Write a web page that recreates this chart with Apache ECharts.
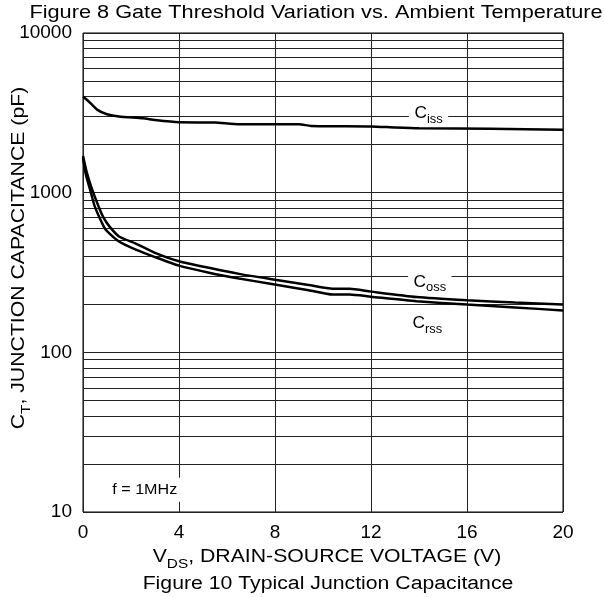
<!DOCTYPE html>
<html><head><meta charset="utf-8">
<script src="https://cdn.jsdelivr.net/npm/echarts@6/dist/echarts.min.js"></script>
<style>html,body{margin:0;padding:0;background:#fff}#c{width:605px;height:597px}</style>
</head><body><div id="c"></div>
<script>
const xTicks = [0, 4, 8, 12, 16, 20];
const yTicks = [10, 100, 1000, 10000];
const minorLines = [20,30,40,50,60,70,80,90,200,300,400,500,600,700,800,900,2000,3000,4000,5000,6000,7000,8000,9000];
const ciss = [[0,4000],[0.3,3650],[0.6,3300],[1,3100],[1.5,3000],[2.5,2920],[3,2850],[4,2760],[5.5,2750],[6.5,2680],[9,2680],[9.5,2620],[12,2600],[13,2560],[14,2530],[17,2510],[20,2480]];
const coss = [[0,1700],[0.15,1350],[0.35,1080],[0.65,820],[0.85,700],[1.1,615],[1.5,532],[2.2,480],[3,420],[4,372],[5.3,337],[6.5,310],[7.8,288],[9.4,264],[10.4,250],[11.1,250],[12,240],[13.9,222],[16,212],[18,205],[20,199]];
const crss = [[0,1650],[0.12,1300],[0.33,1000],[0.49,820],[0.86,615],[1.0,575],[1.5,495],[2.2,440],[3,395],[4,349],[5.3,314],[6.5,290],[7.8,269],[9.4,245],[10.4,230],[11.1,230],[12,223],[13.9,209],[16,199],[18,191],[20,183]];
const notes = [
  {pos:[14.4,3170], main:'C', sub:'iss'},
  {pos:[14.45,279], main:'C', sub:'oss'},
  {pos:[14.35,153], main:'C', sub:'rss'}
];
const freqNote = {pos:[2.55,13.8], text:'f = 1MHz'};
const topTitle = 'Figure 8 Gate Threshold Variation vs. Ambient Temperature';
const bottomTitle = 'Figure 10 Typical Junction Capacitance';
const xName = {main:'V', sub:'DS', rest:', DRAIN-SOURCE VOLTAGE (V)'};
const yName = {main:'C', sub:'T', rest:', JUNCTION CAPACITANCE (pF)'};
const FONT = '"Liberation Sans", Arial, sans-serif';
const SX = 1.18;

const chart = echarts.init(document.getElementById('c'));
const lineStyle = {color:'#000', width:2.5};
chart.setOption({
  animation:false,
  grid:{left:83, right:42, top:33, bottom:85, outerBoundsMode:'none', containLabel:false,
        show:true, borderColor:'#000', borderWidth:1, backgroundColor:'#fff'},
  xAxis:{type:'value', min:0, max:20, interval:4,
    axisLine:{show:false}, axisTick:{show:false},
    axisLabel:{fontFamily:FONT, fontSize:19, color:'#000', margin:11},
    splitLine:{show:true, lineStyle:{color:'#222', width:1}}
  },
  yAxis:{type:'log', logBase:10, min:10, max:10000,
    axisLine:{show:false}, axisTick:{show:false},
    axisLabel:{fontFamily:FONT, fontSize:19, color:'#000', margin:11, padding:[5,0,0,0], formatter:v=>String(Math.round(v))},
    splitLine:{show:true, lineStyle:{color:'#222', width:1}}
  },
  series:[
    {type:'line', data:[], silent:true,
     markLine:{silent:true, symbol:['none','none'], label:{show:false},
       lineStyle:{color:'#222', width:1, type:'solid'},
       data:minorLines.map(v=>({yAxis:v}))}},
    {name:'Ciss', type:'line', data:ciss, showSymbol:false, lineStyle, smooth:0.2, z:5},
    {name:'Coss', type:'line', data:coss, showSymbol:false, lineStyle, smooth:0.2, z:5},
    {name:'Crss', type:'line', data:crss, showSymbol:false, lineStyle, smooth:0.2, z:5}
  ]
});

function subRich(size, subSize){
  return {a:{fontFamily:FONT, fontSize:size, fill:'#000', verticalAlign:'bottom', lineHeight:size+2},
          b:{fontFamily:FONT, fontSize:subSize, fill:'#000', verticalAlign:'bottom', lineHeight:subSize+1, padding:[0,0,-Math.round(size*0.25),0]}};
}
function place(){
  const g = [];
  g.push({type:'text', x:316, y:13, scaleX:1.207, style:{text:topTitle, align:'center', verticalAlign:'middle', fontFamily:FONT, fontSize:18, fill:'#000'}});
  g.push({type:'text', x:328, y:584, scaleX:SX, style:{text:bottomTitle, align:'center', verticalAlign:'middle', fontFamily:FONT, fontSize:18, fill:'#000'}});
  g.push({type:'text', x:327, y:556, scaleX:SX, style:{text:'{a|'+xName.main+'}{b|'+xName.sub+'}{a|'+xName.rest+'}', align:'center', verticalAlign:'middle', rich:subRich(18,13)}});
  g.push({type:'text', x:18, y:258, rotation:Math.PI/2, scaleX:SX, style:{text:'{a|'+yName.main+'}{b|'+yName.sub+'}{a|'+yName.rest+'}', align:'center', verticalAlign:'middle', rich:subRich(18,13)}});
  notes.forEach(n=>{
    const p = chart.convertToPixel({gridIndex:0}, n.pos);
    g.push({type:'text', x:p[0], y:p[1], z:100, scaleX:1.08,
      style:{text:'{a|'+n.main+'}{b|'+n.sub+'}', align:'center', verticalAlign:'middle',
        backgroundColor:'#fff', padding:[1,5,1,5], rich:subRich(16,12)}});
  });
  const f = chart.convertToPixel({gridIndex:0}, freqNote.pos);
  g.push({type:'text', x:f[0], y:f[1], z:100, scaleX:1.15,
    style:{text:freqNote.text, align:'center', verticalAlign:'middle', fontFamily:FONT, fontSize:14, fill:'#000',
      backgroundColor:'#fff', padding:[5,4,5,5]}});
  chart.setOption({graphic:g});
}
place();
</script></body></html>
